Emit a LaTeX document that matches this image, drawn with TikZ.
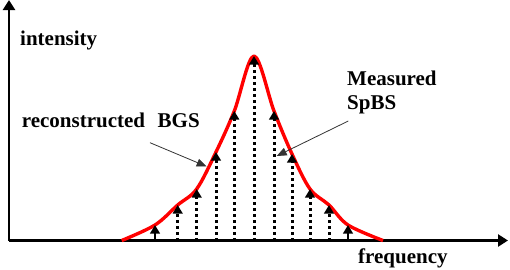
\documentclass[tikz,border=0pt]{standalone}
\usepackage{fontspec}
\setmainfont{Liberation Serif}
\usetikzlibrary{arrows.meta}
\begin{document}
\begin{tikzpicture}[x=1pt,y=-1pt,
  axis/.style={line width=2.4pt,-{Triangle[length=10pt,width=12pt]}},
  lbl/.style={inner sep=0pt,anchor=base west,font=\fontsize{21}{24}\selectfont\bfseries},
  solidarr/.style={line width=2.2pt,-{Triangle[length=8.5pt,width=9.5pt]}},
  dotarr/.style={line width=3pt,dash pattern=on 3pt off 3pt,-{Triangle[length=8.5pt,width=9.5pt]}},
  ptr/.style={line width=0.8pt,draw=black!80,-{Triangle[length=10pt,width=8pt]}},
  bgs/.style={red,line width=3.4pt,line join=round}]
\useasboundingbox (0,0) rectangle (510,269);
% axes
\coordinate (O) at (9,240.5);
\coordinate (Ytop) at (9,0);
\coordinate (Xend) at (508,240.5);
\draw[axis] (O) -- (Ytop);
\draw[axis] (O) -- (Xend);
% reconstructed curve
\draw[bgs] plot[smooth,tension=0.55] coordinates {(121.7,240.5) (155,225) (177.7,205) (196.7,189) (216,152) (234.3,111) (254,56) (274,111) (292,154) (310,189) (329,205) (348,225) (383,240.5)};
% measured arrows
\foreach \i/\x/\y in {1/155/225,2/177.7/205,3/196.7/189,4/216/152,5/234.3/111,6/254/56,7/274/111,8/292/154,9/310/189,10/329/205,11/348/225}{
  \coordinate (b\i) at (\x,240.5);
  \coordinate (t\i) at (\x,\y);
}
\draw[solidarr] (b1) -- (t1);
\draw[solidarr] (b11) -- (t11);
\foreach \i in {2,...,10}{\draw[dotarr] (b\i) -- (t\i);}
% labels
\node[lbl] (int) at (20,45) {intensity};
\node[lbl] (rec) at (21.7,127.7) {reconstructed\hspace{0.35em} BGS};
\node[lbl] (meas) at (347,85) {Measured};
\node[lbl] (spbs) at (347,109) {SpBS};
\node[lbl] (freq) at (358,263) {frequency};
% pointers
\coordinate (p1s) at (150,142.7);
\coordinate (p1e) at (206.7,166.5);
\coordinate (p2s) at (348.3,121);
\coordinate (p2e) at (276.7,156);
\draw[ptr] (p1s) -- (p1e);
\draw[ptr] (p2s) -- (p2e);
\end{tikzpicture}
\end{document}
